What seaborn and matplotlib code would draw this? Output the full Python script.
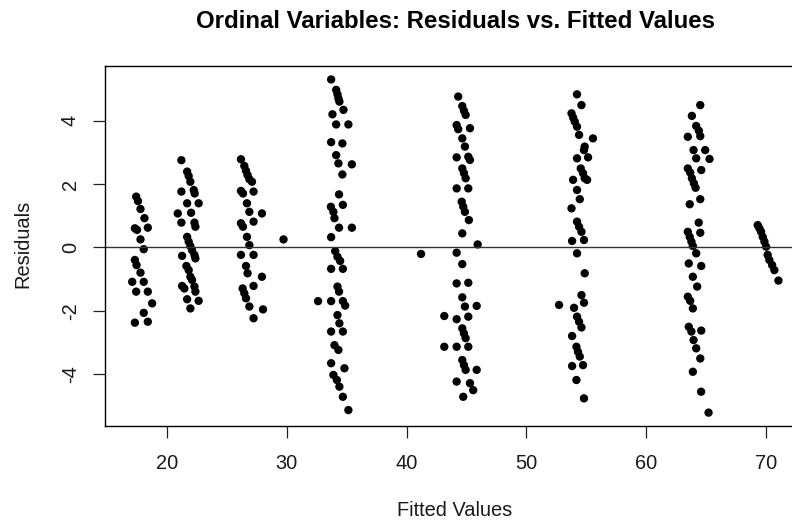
import matplotlib
matplotlib.use("Agg")
import matplotlib.pyplot as plt
import seaborn as sns
import pandas as pd

# ---- data: (fitted value, residual) ----
group_17 = [(17.45, 1.60), (17.60, 1.46), (17.81, 1.21), (18.14, 0.92), (17.34, 0.60),
            (17.52, 0.55), (18.42, 0.62), (17.81, 0.25), (18.08, -0.06), (17.34, -0.40),
            (17.48, -0.56), (17.81, -0.80), (17.12, -1.09), (18.08, -1.09), (17.45, -1.40),
            (18.42, -1.40), (18.78, -1.77), (18.08, -2.07), (17.34, -2.38), (18.42, -2.35)]
group_22 = [(21.22, 2.75), (21.70, 2.39), (21.83, 2.25), (21.97, 2.07), (22.25, 1.81),
            (21.22, 1.76), (22.33, 1.70), (21.70, 1.39), (22.66, 1.39), (20.92, 1.07),
            (22.03, 1.09), (21.22, 0.78), (22.31, 0.78), (22.39, 0.65), (21.70, 0.33),
            (21.83, 0.18), (21.97, 0.04), (22.11, -0.09), (22.31, -0.24), (21.28, -0.27),
            (22.39, -0.35), (21.64, -0.59), (21.83, -0.72), (21.97, -0.93), (22.11, -1.03),
            (21.28, -1.22), (21.47, -1.30), (22.31, -1.24), (22.39, -1.40), (21.70, -1.64),
            (22.66, -1.69), (21.97, -1.93)]
group_27 = [(26.19, 2.78), (26.47, 2.57), (26.61, 2.42), (26.74, 2.28), (26.89, 2.15),
            (27.11, 2.07), (26.19, 1.78), (26.36, 1.70), (27.24, 1.76), (26.69, 1.39),
            (26.89, 1.12), (27.94, 1.07), (26.19, 0.76), (26.36, 0.65), (27.24, 0.81),
            (26.69, 0.33), (26.89, 0.07), (26.19, -0.24), (27.24, -0.24), (26.61, -0.59),
            (26.74, -0.82), (27.94, -0.93), (27.24, -1.22), (26.33, -1.30), (26.47, -1.45),
            (26.61, -1.61), (26.89, -1.87), (28.03, -1.96), (27.24, -2.24), (29.74, 0.25)]
group_34 = [(32.62, -1.70), (33.71, 5.30), (34.13, 4.97), (34.24, 4.83), (34.32, 4.70),
            (34.40, 4.60), (33.82, 4.20), (34.74, 4.34), (34.13, 3.88), (35.15, 3.88),
            (33.71, 3.32), (34.65, 3.28), (34.13, 2.91), (34.32, 2.65), (35.44, 2.62),
            (34.65, 2.30), (34.37, 1.67), (33.69, 1.28), (34.69, 1.34), (33.90, 1.12),
            (33.99, 0.92), (34.37, 0.62), (35.44, 0.62), (33.71, 0.32), (34.05, -0.12),
            (34.24, -0.30), (34.46, -0.43), (33.71, -0.68), (34.69, -0.68), (34.24, -1.24),
            (34.37, -1.40), (33.71, -1.70), (34.69, -1.70), (34.88, -1.84), (34.24, -2.14),
            (34.40, -2.40), (33.71, -2.66), (34.69, -2.66), (33.99, -3.09), (34.32, -3.24),
            (33.71, -3.66), (34.82, -3.82), (33.90, -4.03), (34.19, -4.19), (34.40, -4.40),
            (34.69, -4.72), (35.15, -5.14)]
group_45 = [(44.31, 4.76), (44.65, 4.46), (44.79, 4.31), (44.93, 4.18), (44.18, 3.86),
            (44.31, 3.73), (45.29, 3.76), (44.65, 3.44), (44.87, 3.18), (44.18, 2.84),
            (45.15, 2.86), (45.29, 2.76), (44.65, 2.49), (44.79, 2.34), (44.93, 2.18),
            (44.18, 1.86), (45.15, 1.86), (44.60, 1.44), (44.73, 1.28), (44.87, 1.12),
            (45.20, 0.86), (44.65, 0.44), (45.93, 0.09), (41.21, -0.21), (44.18, -0.17),
            (44.65, -0.53), (44.18, -1.14), (45.15, -1.12), (44.65, -1.58), (44.87, -1.87),
            (45.85, -1.85), (43.15, -2.17), (44.18, -2.27), (45.15, -2.19), (44.65, -2.56),
            (44.79, -2.72), (44.93, -2.87), (43.15, -3.14), (44.18, -3.14), (45.15, -3.14),
            (44.65, -3.56), (44.79, -3.72), (44.93, -3.87), (45.85, -3.87), (44.18, -4.24),
            (45.29, -4.29), (45.56, -4.51), (44.73, -4.72)]
group_54 = [(54.22, 4.83), (54.59, 4.49), (53.76, 4.23), (53.89, 4.10), (54.03, 3.97),
            (54.22, 3.81), (54.39, 3.55), (55.55, 3.44), (54.86, 3.18), (54.80, 3.07),
            (55.14, 2.84), (54.22, 2.81), (54.53, 2.49), (54.72, 2.34), (54.86, 2.18),
            (55.06, 2.13), (53.89, 2.13), (54.22, 1.81), (54.45, 1.52), (53.76, 1.23),
            (54.22, 0.81), (54.39, 0.65), (54.59, 0.49), (54.80, 0.23), (53.81, 0.20),
            (54.22, -0.19), (54.86, -0.82), (54.59, -1.51), (54.80, -1.75), (52.72, -1.82),
            (53.97, -1.91), (54.22, -2.19), (54.39, -2.35), (54.59, -2.53), (53.81, -2.80),
            (54.17, -3.14), (54.30, -3.30), (54.45, -3.45), (54.72, -3.72), (53.81, -3.75),
            (54.17, -4.19), (54.80, -4.77)]
group_64 = [(64.50, 4.49), (63.80, 4.15), (64.16, 3.83), (64.38, 3.68), (63.46, 3.49),
            (64.50, 3.51), (63.94, 3.07), (64.91, 3.07), (64.16, 2.81), (65.27, 2.79),
            (63.46, 2.49), (63.66, 2.36), (64.58, 2.44), (63.80, 2.18), (63.97, 2.02),
            (64.11, 1.88), (64.50, 1.52), (63.62, 1.36), (64.37, 0.78), (63.46, 0.49),
            (63.62, 0.33), (64.50, 0.46), (63.76, 0.18), (63.88, 0.04), (64.16, -0.19),
            (63.54, -0.51), (64.58, -0.59), (63.88, -0.93), (64.24, -1.24), (63.46, -1.56),
            (63.66, -1.69), (63.88, -1.93), (63.54, -2.51), (63.76, -2.66), (64.58, -2.63),
            (63.94, -2.93), (64.16, -3.19), (64.50, -3.51), (63.88, -3.93), (64.57, -4.56),
            (65.19, -5.22)]
group_70 = [(69.29, 0.70), (69.43, 0.60), (69.57, 0.49), (69.71, 0.33), (69.85, 0.18),
            (69.99, 0.02), (70.12, -0.24), (70.26, -0.40), (70.49, -0.56), (70.68, -0.72),
            (71.02, -1.05)]

x_ticks = [20, 30, 40, 50, 60, 70]
y_ticks = [-4, -2, 0, 2, 4]

title = "Ordinal Variables: Residuals vs. Fitted Values"
x_label = "Fitted Values"
y_label = "Residuals"

points = (group_17 + group_22 + group_27 + group_34 + group_45 +
          group_54 + group_64 + group_70)
df = pd.DataFrame(points, columns=["fitted", "resid"])

# ---- styling ----
sns.set_theme(style="white")
plt.rcParams['font.family'] = ['Liberation Sans', 'DejaVu Sans']

W, H = 792, 524
fig = plt.figure(figsize=(W / 100, H / 100), dpi=100)
ax = fig.add_axes([105 / W, 1 - 425.7 / H, (W - 105) / W, (425.7 - 66) / H])

sns.scatterplot(data=df, x="fitted", y="resid", color="black", s=36,
                edgecolor="none", linewidth=0, ax=ax, legend=False)
ax.axhline(0, color="#333333", lw=1.0, zorder=1)

ax.set_xlim(14.85, 72.15)
ax.set_ylim(-5.633, 5.725)
ax.set_xticks(x_ticks)
ax.set_xticklabels([str(v) for v in x_ticks])
ax.set_yticks(y_ticks)
ax.set_yticklabels([str(v) for v in y_ticks], rotation=90, va="center")

for side in ["left", "bottom", "top"]:
    ax.spines[side].set_visible(True)
    ax.spines[side].set_color("black")
    ax.spines[side].set_linewidth(1.0)
ax.spines["right"].set_visible(False)

ax.tick_params(axis="both", direction="out", length=8.6, width=0.9,
               color="#222222", labelsize=14.4, labelcolor="#1a1a1a")
ax.tick_params(axis="x", pad=12, bottom=True)
ax.tick_params(axis="y", pad=9.5, left=True)
ax.set_xlabel("")
ax.set_ylabel("")
ax.grid(False)

fig.text(455 / W, 1 - 510 / H, x_label, ha="center", va="center",
         fontsize=14.4, color="#1a1a1a")
fig.text(22.5 / W, 1 - 244 / H, y_label, ha="center", va="center",
         rotation=90, fontsize=14.4, color="#1a1a1a")
fig.text(455 / W, 1 - 21 / H, title, ha="center", va="center",
         fontsize=17.3, fontweight="bold", color="black")

fig.savefig("out.png", dpi=100)
